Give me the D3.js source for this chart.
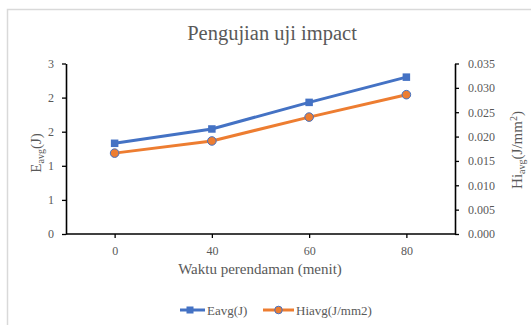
<!DOCTYPE html>
<html>
<head>
<meta charset="utf-8">
<script src="https://cdn.jsdelivr.net/npm/d3@7"></script>
<style>
  body { margin: 0; background: #fff; }
</style>
</head>
<body>
<div id="chart"></div>
<script>
// data
const waktu = ["0", "40", "60", "80"]
const eavg = [1.33, 1.54, 1.93, 2.30]
const hiavg = [0.0166, 0.0191, 0.0240, 0.0286]
const leftTicks = [0, 0.5, 1, 1.5, 2, 2.5]
const leftTickLabels = ["0", "1", "1", "2", "2", "3"]
const rightTicks = [0, 0.005, 0.01, 0.015, 0.02, 0.025, 0.03, 0.035]

const W = 531, H = 325
const blue = "#4472C4", orange = "#ED7D31"
const serif = "'Liberation Serif', 'Times New Roman', serif"

// Plotbereich
const plotL = 66, plotR = 455, plotT = 63.5, plotB = 234

const svg = d3.select("#chart").append("svg")
  .attr("width", W)
  .attr("height", H)

// Rahmen
svg.append("rect")
  .attr("x", 7.5).attr("y", 9.5)
  .attr("width", W).attr("height", H)
  .attr("fill", "none")
  .attr("stroke", "#d9d9d9")
  .attr("stroke-width", 1.5)

const x = d3.scalePoint().domain(waktu).range([plotL, plotR]).padding(0.5)
const yL = d3.scaleLinear().domain([0, 2.5]).range([plotB, plotT])
const yR = d3.scaleLinear().domain([0, 0.035]).range([plotB, plotT])

// Achsen
const axisX = svg.append("g")
  .attr("transform", "translate(0," + plotB + ")")
  .call(d3.axisBottom(x).tickSize(4).tickPadding(8))
axisX.select(".domain").attr("d", "M" + plotL + ",0H" + plotR)

const axisL = svg.append("g")
  .attr("transform", "translate(" + plotL + ",0)")
  .call(d3.axisLeft(yL).tickValues(leftTicks)
    .tickFormat((d, i) => leftTickLabels[i]).tickSize(4).tickSizeOuter(0).tickPadding(8))

const axisR = svg.append("g")
  .attr("transform", "translate(" + plotR + ",0)")
  .call(d3.axisRight(yR).tickValues(rightTicks)
    .tickFormat(d3.format(".3f")).tickSize(4).tickSizeOuter(0).tickPadding(9))

svg.selectAll(".domain").attr("stroke", "#000").attr("stroke-width", 1.6)
svg.selectAll(".tick line").attr("stroke", "#000").attr("stroke-width", 1.3)
svg.selectAll(".tick text").style("font-size", "12px")

// Titel
svg.append("text")
  .attr("x", 272).attr("y", 40)
  .attr("text-anchor", "middle")
  .style("font-size", "20.5px")
  .text("Pengujian  uji impact")

svg.append("text")
  .attr("x", 260).attr("y", 274)
  .attr("text-anchor", "middle")
  .style("font-size", "15px")
  .text("Waktu perendaman  (menit)")

const tL = svg.append("text")
  .attr("transform", "translate(41,153) rotate(-90)")
  .attr("text-anchor", "middle")
  .style("font-size", "15px")
tL.append("tspan").text("E")
tL.append("tspan").attr("dy", 3).style("font-size", "10px").text("avg")
tL.append("tspan").attr("dy", -3).text("(J)")

const tR = svg.append("text")
  .attr("transform", "translate(522,150) rotate(-90)")
  .attr("text-anchor", "middle")
  .style("font-size", "15px")
tR.append("tspan").text("Hi")
tR.append("tspan").attr("dy", 3).style("font-size", "10px").text("avg")
tR.append("tspan").attr("dy", -3).text("(J/mm")
tR.append("tspan").attr("dy", -5).style("font-size", "10px").text("2")
tR.append("tspan").attr("dy", 5).text(")")

// Linien
const lineE = d3.line().x((d, i) => x(waktu[i])).y(d => yL(d))
const lineH = d3.line().x((d, i) => x(waktu[i])).y(d => yR(d))

svg.append("path")
  .attr("d", lineE(eavg))
  .attr("fill", "none").attr("stroke", blue).attr("stroke-width", 3)

svg.append("path")
  .attr("d", lineH(hiavg))
  .attr("fill", "none").attr("stroke", orange).attr("stroke-width", 3)

svg.append("g").selectAll("rect")
  .data(eavg)
  .enter()
  .append("rect")
  .attr("x", (d, i) => x(waktu[i]) - 3.75)
  .attr("y", d => yL(d) - 3.75)
  .attr("width", 7.5).attr("height", 7.5)
  .attr("fill", blue)

svg.append("g").selectAll("circle")
  .data(hiavg)
  .enter()
  .append("circle")
  .attr("cx", (d, i) => x(waktu[i]))
  .attr("cy", d => yR(d))
  .attr("r", 4.3)
  .attr("fill", orange)
  .attr("stroke", blue)
  .attr("stroke-width", 1)

// Legende
const leg = svg.append("g").attr("transform", "translate(0,310)")
leg.append("line").attr("x1", 180).attr("x2", 205).attr("stroke", blue).attr("stroke-width", 3)
leg.append("rect").attr("x", 186.5).attr("y", -3.5).attr("width", 7).attr("height", 7).attr("fill", blue)
leg.append("text").attr("x", 207).attr("y", 4.5).style("font-size", "13px").text("Eavg(J)")

leg.append("line").attr("x1", 263).attr("x2", 294).attr("stroke", orange).attr("stroke-width", 3)
leg.append("circle").attr("cx", 278.5).attr("r", 3.8)
  .attr("fill", orange).attr("stroke", blue).attr("stroke-width", 1)
leg.append("text").attr("x", 296).attr("y", 4.5).style("font-size", "13px").text("Hiavg(J/mm2)")

// Schrift überall Times-artig
svg.selectAll("g").attr("font-family", null)
svg.selectAll("text")
  .style("font-family", serif)
  .attr("fill", "#595959")
</script>
</body>
</html>
